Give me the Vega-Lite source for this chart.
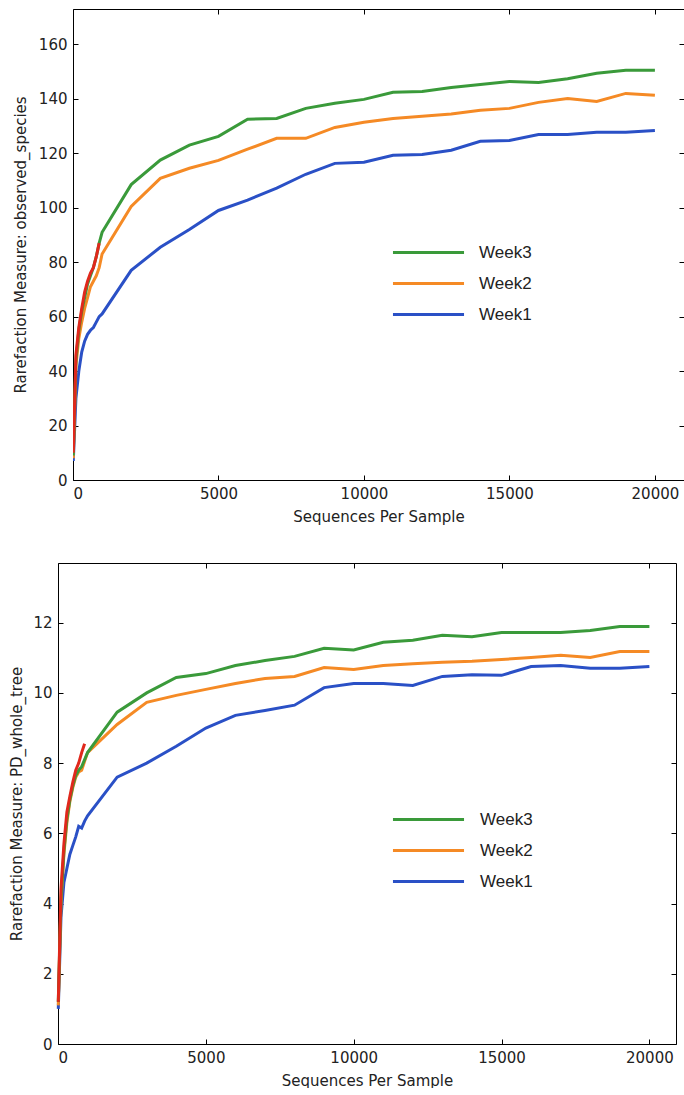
{
  "$schema": "https://vega.github.io/schema/vega-lite/v6.json",
  "padding": {"left": 9, "top": 8, "right": 0, "bottom": 0},
  "background": "white",
  "config": {
    "view": {"stroke": null},
    "axis": {
      "labelFont": "DejaVu Sans", "labelFontSize": 15, "labelColor": "#222",
      "titleFont": "DejaVu Sans", "titleFontSize": 15, "titleFontWeight": "normal", "titleColor": "#222",
      "domainColor": "black", "tickColor": "black", "grid": false, "tickSize": -5, "labelPadding": 11
    },
    "legend": {
      "labelFont": "Liberation Sans", "labelFontSize": 17, "labelColor": "#222",
      "symbolType": "M-3,0H3", "symbolSize": 561, "symbolStrokeWidth": 3, "padding": 0
    }
  },
  "datasets": {
    "species": [
      {"seqs": 10, "Week1": 7, "Week2": 8, "Week3": 9, "Week4": 10},
      {"seqs": 100, "Week1": 30, "Week2": 42, "Week3": 44, "Week4": 46},
      {"seqs": 200, "Week1": 40, "Week2": 52, "Week3": 55, "Week4": 56},
      {"seqs": 300, "Week1": 47, "Week2": 58, "Week3": 62, "Week4": 63},
      {"seqs": 400, "Week1": 51, "Week2": 63, "Week3": 67, "Week4": 69},
      {"seqs": 500, "Week1": 53.5, "Week2": 67, "Week3": 72, "Week4": 73},
      {"seqs": 600, "Week1": 55, "Week2": 71, "Week3": 75, "Week4": 76},
      {"seqs": 700, "Week1": 56, "Week2": 73, "Week3": 78, "Week4": 78},
      {"seqs": 800, "Week1": 58, "Week2": 75, "Week3": 82, "Week4": 82},
      {"seqs": 900, "Week1": 60, "Week2": 78, "Week3": 87, "Week4": 87},
      {"seqs": 1000, "Week1": 61, "Week2": 83, "Week3": 91, "Week4": null},
      {"seqs": 2000, "Week1": 77, "Week2": 100.5, "Week3": 108.5, "Week4": null},
      {"seqs": 3000, "Week1": 85.5, "Week2": 110.8, "Week3": 117.5, "Week4": null},
      {"seqs": 4000, "Week1": 92, "Week2": 114.5, "Week3": 123, "Week4": null},
      {"seqs": 5000, "Week1": 99, "Week2": 117.4, "Week3": 126.2, "Week4": null},
      {"seqs": 6000, "Week1": 102.8, "Week2": 121.5, "Week3": 132.5, "Week4": null},
      {"seqs": 7000, "Week1": 107.2, "Week2": 125.5, "Week3": 132.8, "Week4": null},
      {"seqs": 8000, "Week1": 112.3, "Week2": 125.5, "Week3": 136.5, "Week4": null},
      {"seqs": 9000, "Week1": 116.3, "Week2": 129.5, "Week3": 138.4, "Week4": null},
      {"seqs": 10000, "Week1": 116.7, "Week2": 131.4, "Week3": 139.8, "Week4": null},
      {"seqs": 11000, "Week1": 119.3, "Week2": 132.8, "Week3": 142.4, "Week4": null},
      {"seqs": 12000, "Week1": 119.6, "Week2": 133.6, "Week3": 142.7, "Week4": null},
      {"seqs": 13000, "Week1": 121.1, "Week2": 134.4, "Week3": 144.2, "Week4": null},
      {"seqs": 14000, "Week1": 124.4, "Week2": 135.8, "Week3": 145.3, "Week4": null},
      {"seqs": 15000, "Week1": 124.7, "Week2": 136.5, "Week3": 146.4, "Week4": null},
      {"seqs": 16000, "Week1": 126.9, "Week2": 138.7, "Week3": 146, "Week4": null},
      {"seqs": 17000, "Week1": 126.9, "Week2": 140.1, "Week3": 147.4, "Week4": null},
      {"seqs": 18000, "Week1": 127.7, "Week2": 139, "Week3": 149.4, "Week4": null},
      {"seqs": 19000, "Week1": 127.7, "Week2": 142, "Week3": 150.5, "Week4": null},
      {"seqs": 20000, "Week1": 128.4, "Week2": 141.3, "Week3": 150.5, "Week4": null}
    ],
    "pd": [
      {"seqs": 10, "Week1": 1.0, "Week2": 1.1, "Week3": 1.2, "Week4": 1.2},
      {"seqs": 100, "Week1": 3.6, "Week2": 4.0, "Week3": 4.1, "Week4": 4.4},
      {"seqs": 200, "Week1": 4.6, "Week2": 5.4, "Week3": 5.5, "Week4": 5.7},
      {"seqs": 300, "Week1": 5.0, "Week2": 6.3, "Week3": 6.4, "Week4": 6.6},
      {"seqs": 400, "Week1": 5.4, "Week2": 6.9, "Week3": 6.95, "Week4": 7.05},
      {"seqs": 500, "Week1": 5.65, "Week2": 7.3, "Week3": 7.35, "Week4": 7.45},
      {"seqs": 600, "Week1": 5.9, "Week2": 7.6, "Week3": 7.65, "Week4": 7.8},
      {"seqs": 700, "Week1": 6.2, "Week2": 7.75, "Week3": 7.8, "Week4": 8.0},
      {"seqs": 800, "Week1": 6.15, "Week2": 7.8, "Week3": 7.9, "Week4": 8.3},
      {"seqs": 900, "Week1": 6.35, "Week2": 8.05, "Week3": 8.1, "Week4": 8.55},
      {"seqs": 1000, "Week1": 6.5, "Week2": 8.3, "Week3": 8.3, "Week4": null},
      {"seqs": 2000, "Week1": 7.6, "Week2": 9.1, "Week3": 9.45, "Week4": null},
      {"seqs": 3000, "Week1": 8.0, "Week2": 9.73, "Week3": 10.0, "Week4": null},
      {"seqs": 4000, "Week1": 8.48, "Week2": 9.93, "Week3": 10.44, "Week4": null},
      {"seqs": 5000, "Week1": 9.0, "Week2": 10.1, "Week3": 10.55, "Week4": null},
      {"seqs": 6000, "Week1": 9.36, "Week2": 10.27, "Week3": 10.78, "Week4": null},
      {"seqs": 7000, "Week1": 9.5, "Week2": 10.41, "Week3": 10.92, "Week4": null},
      {"seqs": 8000, "Week1": 9.65, "Week2": 10.47, "Week3": 11.04, "Week4": null},
      {"seqs": 9000, "Week1": 10.15, "Week2": 10.72, "Week3": 11.27, "Week4": null},
      {"seqs": 10000, "Week1": 10.27, "Week2": 10.67, "Week3": 11.22, "Week4": null},
      {"seqs": 11000, "Week1": 10.27, "Week2": 10.78, "Week3": 11.44, "Week4": null},
      {"seqs": 12000, "Week1": 10.21, "Week2": 10.83, "Week3": 11.5, "Week4": null},
      {"seqs": 13000, "Week1": 10.47, "Week2": 10.87, "Week3": 11.64, "Week4": null},
      {"seqs": 14000, "Week1": 10.52, "Week2": 10.9, "Week3": 11.6, "Week4": null},
      {"seqs": 15000, "Week1": 10.5, "Week2": 10.95, "Week3": 11.72, "Week4": null},
      {"seqs": 16000, "Week1": 10.75, "Week2": 11.01, "Week3": 11.72, "Week4": null},
      {"seqs": 17000, "Week1": 10.78, "Week2": 11.07, "Week3": 11.72, "Week4": null},
      {"seqs": 18000, "Week1": 10.7, "Week2": 11.01, "Week3": 11.78, "Week4": null},
      {"seqs": 19000, "Week1": 10.7, "Week2": 11.18, "Week3": 11.89, "Week4": null},
      {"seqs": 20000, "Week1": 10.75, "Week2": 11.18, "Week3": 11.89, "Week4": null}
    ]
  },
  "resolve": {"scale": {"color": "independent"}, "legend": {"color": "independent"}},
  "spacing": 38,
  "vconcat": [
    {
      "width": 611,
      "height": 471,
      "data": {"name": "species"},
      "transform": [
        {"fold": ["Week1", "Week2", "Week3", "Week4"], "as": ["group", "value"]},
        {"filter": "isValid(datum.value)"}
      ],
      "resolve": {"axis": {"x": "independent", "y": "independent"}},
      "layer": [
        {
          "mark": {"type": "line", "strokeWidth": 3, "clip": true},
          "encoding": {
            "x": {"field": "seqs", "type": "quantitative", "scale": {"domain": [0, 21000], "nice": false, "zero": false},
              "axis": {"title": "Sequences Per Sample", "values": [0, 5000, 10000, 15000, 20000], "format": "d", "titlePadding": 8}},
            "y": {"field": "value", "type": "quantitative", "scale": {"domain": [0, 173], "nice": false},
              "axis": {"title": "Rarefaction Measure: observed_species", "values": [0, 20, 40, 60, 80, 100, 120, 140, 160], "titlePadding": 10}},
            "color": {"field": "group", "type": "nominal",
              "scale": {"domain": ["Week1", "Week2", "Week3", "Week4"], "range": ["#2a50c6", "#f58a25", "#3a9a3a", "#e0281c"]},
              "legend": {"orient": "none", "legendX": 342, "legendY": 230, "title": null, "values": ["Week3", "Week2", "Week1"], "labelOffset": 37, "rowPadding": 9}}
          }
        },
        {
          "mark": {"type": "point", "opacity": 0, "size": 0},
          "encoding": {
            "x": {"field": "seqs", "type": "quantitative", "axis": {"orient": "top", "labels": false, "title": null, "values": [0, 5000, 10000, 15000, 20000]}},
            "y": {"field": "value", "type": "quantitative", "axis": {"orient": "right", "labels": false, "title": null, "values": [0, 20, 40, 60, 80, 100, 120, 140, 160]}}
          }
        }
      ]
    },
    {
      "width": 603,
      "height": 481,
      "data": {"name": "pd"},
      "transform": [
        {"fold": ["Week1", "Week2", "Week3", "Week4"], "as": ["group", "value"]},
        {"filter": "isValid(datum.value)"}
      ],
      "resolve": {"axis": {"x": "independent", "y": "independent"}},
      "layer": [
        {
          "mark": {"type": "line", "strokeWidth": 3, "clip": false},
          "encoding": {
            "x": {"field": "seqs", "type": "quantitative", "scale": {"domain": [0, 20900], "range": [-15, 603], "nice": false, "zero": false},
              "axis": {"title": "Sequences Per Sample", "values": [0, 5000, 10000, 15000, 20000], "format": "d", "titlePadding": 8, "titleX": 294}},
            "y": {"field": "value", "type": "quantitative", "scale": {"domain": [0, 13.7], "nice": false},
              "axis": {"title": "Rarefaction Measure: PD_whole_tree", "values": [0, 2, 4, 6, 8, 10, 12], "titlePadding": 8, "offset": 15}},
            "color": {"field": "group", "type": "nominal",
              "scale": {"domain": ["Week1", "Week2", "Week3", "Week4"], "range": ["#2a50c6", "#f58a25", "#3a9a3a", "#e0281c"]},
              "legend": {"orient": "none", "legendX": 342, "legendY": 243, "title": null, "values": ["Week3", "Week2", "Week1"], "labelOffset": 38, "rowPadding": 9}}
          }
        },
        {
          "mark": {"type": "point", "opacity": 0, "size": 0},
          "encoding": {
            "x": {"field": "seqs", "type": "quantitative", "axis": {"orient": "top", "labels": false, "title": null, "values": [0, 5000, 10000, 15000, 20000]}},
            "y": {"field": "value", "type": "quantitative", "axis": {"orient": "right", "labels": false, "title": null, "values": [0, 2, 4, 6, 8, 10, 12]}}
          }
        }
      ]
    }
  ]
}
